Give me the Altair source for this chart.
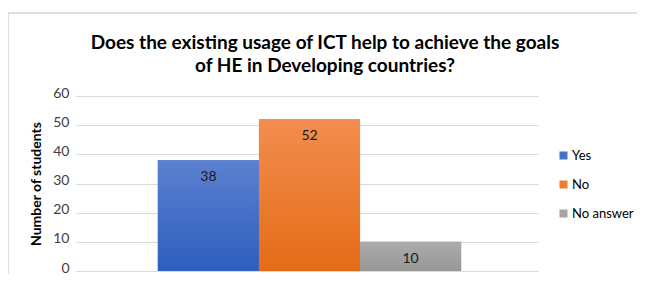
import altair as alt
import pandas as pd

categories = ["Yes", "No", "No answer"]
values = [38, 52, 10]
flat_colors = ["#4472C4", "#ED7D31", "#A5A5A5"]
grad_top = ["#5B80D0", "#F38D4F", "#ABABAB"]
grad_bottom = ["#2E5EBE", "#E56C17", "#979797"]
y_ticks = [0, 10, 20, 30, 40, 50, 60]

df = pd.DataFrame({"cat": categories, "val": values})

title_lines = ["Does the existing usage of ICT help to achieve the goals",
               "of HE in Developing countries?"]

FONT = "Lato"

xenc = alt.X("cat:N", sort=categories,
             scale=alt.Scale(domain=categories, paddingInner=0, paddingOuter=0.76),
             axis=None)
yenc = alt.Y("val:Q", scale=alt.Scale(domain=[0, 60]),
             axis=alt.Axis(values=y_ticks, title="Number of students", labelOverlap=False,
                           titleFont=FONT, titleFontSize=14, titleFontWeight="bold",
                           titleColor="#000000", titlePadding=9,
                           labelFont=FONT, labelFontSize=14, labelColor="#404040",
                           labelPadding=7, labelOffset=-3, tickSize=5, tickColor="#D9D9D9",
                           domain=False, gridColor="#D9D9D9"))

one = alt.Data(values=[{"a": 1}])

border = alt.Chart(one).mark_rect(
    filled=False, stroke="#BFBFBF", strokeWidth=1, clip=False
).encode(x=alt.value(-73), x2=alt.value(650), y=alt.value(-83), y2=alt.value(300))

title1 = alt.Chart(one).mark_text(
    text=title_lines[0], font=FONT, fontSize=19, fontWeight="bold", color="#000000",
    align="center", baseline="alphabetic"
).encode(x=alt.value(244), y=alt.value(-47))
title2 = alt.Chart(one).mark_text(
    text=title_lines[1], font=FONT, fontSize=19, fontWeight="bold", color="#000000",
    align="center", baseline="alphabetic"
).encode(x=alt.value(244), y=alt.value(-24))

base = alt.Chart(df)

bars = base.mark_bar().encode(
    x=xenc, y=yenc,
    color=alt.Color("cat:N", sort=categories,
                    scale=alt.Scale(domain=categories, range=flat_colors),
                    legend=alt.Legend(title=None, orient="none", legendX=476, legendY=53,
                                      symbolType="square", symbolSize=64,
                                      symbolStrokeWidth=0,
                                      labelFont=FONT, labelFontSize=13,
                                      labelColor="#000000", rowPadding=15,
                                      labelOffset=2))
)

grad_layers = []
for c, t, b in zip(categories, grad_top, grad_bottom):
    grad_layers.append(
        base.transform_filter(alt.datum.cat == c).mark_bar(
            color=alt.Gradient(gradient="linear", x1=0, y1=0, x2=0, y2=1,
                               stops=[alt.GradientStop(color=t, offset=0),
                                      alt.GradientStop(color=b, offset=1)])
        ).encode(x=xenc, y=yenc)
    )

labels = base.mark_text(baseline="top", dy=10, font=FONT, fontSize=14, color="#1a1a1a").encode(
    x=xenc, y=yenc, text="val:Q"
)

chart = alt.layer(border, title1, title2, bars, *grad_layers, labels).properties(
    width=457, height=175,
    autosize=alt.AutoSizeParams(type="none"),
    padding={"left": 73, "top": 88, "right": 99, "bottom": 3},
).configure_view(stroke=None)

chart.save("out.html", embed_options={"renderer": "svg", "actions": False})
